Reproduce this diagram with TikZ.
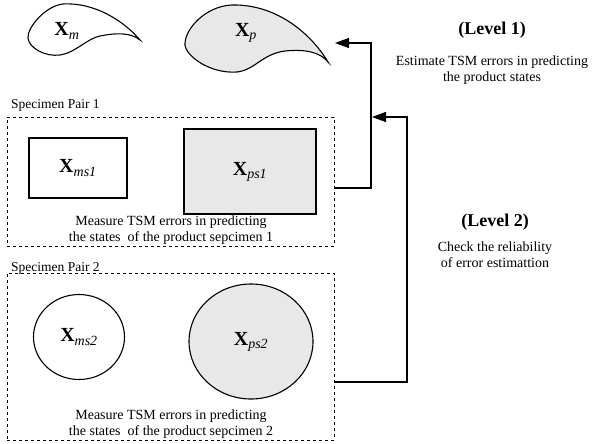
\documentclass[tikz,border=0pt]{standalone}
\usepackage{fontspec}
\setmainfont{Liberation Serif}
\usetikzlibrary{arrows.meta}
\begin{document}
\begin{tikzpicture}[x=1pt,y=-1pt,
  blob/.style={draw,line width=1.1pt,line join=miter},
  shade/.style={fill=gray!18},
  shapebox/.style={draw,line width=1.1pt,inner sep=0pt},
  pairbox/.style={draw,dashed,line width=0.8pt,inner sep=0pt},
  body/.style={font=\fontsize{14}{16}\selectfont,align=center,inner sep=0pt},
  lvl/.style={font=\fontsize{18}{20}\selectfont\bfseries,inner sep=0pt},
  var/.style={font=\fontsize{20}{22}\selectfont,inner sep=0pt},
  conn/.style={line width=1.1pt,-{Triangle[length=14pt,width=10pt]}}]
\useasboundingbox (0,0) rectangle (594,444);
% top blobs
\draw[blob] (140,40) .. controls (125,22) and (95,2) .. (63,4)
  .. controls (45,6) and (27,28) .. (28,38)
  .. controls (29,48) and (45,57) .. (60,55)
  .. controls (75,53) and (88,38) .. (100,36)
  .. controls (115,33) and (130,32) .. (140,40) -- cycle;
\node[var] (xm) at (67,31) {$\mathbf{X}_{\mathit{m}}$};
\draw[blob,shade] (328,62) .. controls (310,32) and (275,4) .. (232,5)
  .. controls (205,6) and (184,30) .. (185,45)
  .. controls (186,56) and (210,74) .. (237,72)
  .. controls (255,70) and (262,54) .. (285,51)
  .. controls (305,49) and (320,52) .. (328,62) -- cycle;
\node[var] (xp) at (246,33) {$\mathbf{X}_{\mathit{p}}$};
% level texts
\node[lvl] (l1) at (492,30) {(Level 1)};
\node[body] (l1t) at (492,70) {Estimate TSM errors in predicting\\the product states};
\node[lvl] (l2) at (495,222) {(Level 2)};
\node[body] (l2t) at (495,255) {Check the reliability\\of error estimattion};
% pair 1
\node[anchor=west,font=\fontsize{13.5}{16}\selectfont,inner sep=0pt] (sp1) at (11,105) {Specimen Pair 1};
\node[pairbox,minimum width=327pt,minimum height=129pt] (box1) at (170.5,181.5) {};
\node[shapebox,minimum width=98pt,minimum height=60pt] (xms1) at (78,168) {};
\node[var] at (xms1) {$\mathbf{X}_{\mathit{ms1}}$};
\node[shapebox,shade,minimum width=132pt,minimum height=85pt] (xps1) at (250,171.5) {};
\node[var] at (xps1) {$\mathbf{X}_{\mathit{ps1}}$};
\node[body] (m1) at (171,230) {Measure TSM errors in predicting\\the states\ \ of the product sepcimen 1};
% pair 2
\node[anchor=west,font=\fontsize{13.5}{16}\selectfont,inner sep=0pt] (sp2) at (11,268) {Specimen Pair 2};
\node[pairbox,minimum width=327pt,minimum height=167pt] (box2) at (170.5,356.5) {};
\draw[blob] (79,337) ellipse [x radius=45.5, y radius=42.5];
\node[var] (xms2) at (79,337) {$\mathbf{X}_{\mathit{ms2}}$};
\draw[blob,shade] (251,341.5) ellipse [x radius=62, y radius=57.5];
\node[var] (xps2) at (251,341.5) {$\mathbf{X}_{\mathit{ps2}}$};
\node[body] (m2) at (171,424) {Measure TSM errors in predicting\\the states\ \ of the product sepcimen 2};
% connectors
\coordinate (t1) at (335,43);
\coordinate (t2) at (372,117);
\coordinate (c1) at (371,188);
\coordinate (c2) at (407,382);
\draw[conn] (box1.east |- c1) -- (c1) -- (c1 |- t1) -- (t1);
\draw[conn] (box2.east |- c2) -- (c2) -- (c2 |- t2) -- (t2);
\end{tikzpicture}
\end{document}
